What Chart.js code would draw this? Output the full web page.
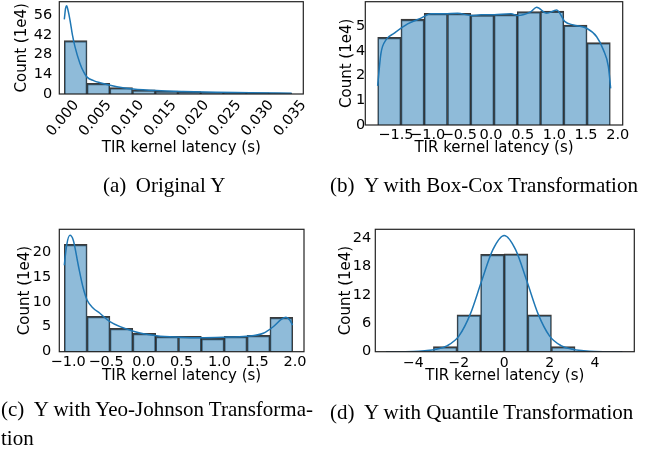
<!DOCTYPE html>
<html>
<head>
<meta charset="utf-8">
<script src="https://cdn.jsdelivr.net/npm/chart.js@4.4.1/dist/chart.umd.min.js"></script>
<style>
  body { margin: 0; width: 662px; height: 451px; background: #fff; overflow: hidden; position: relative; }
  .box { position: absolute; width: 331px; height: 200px; }
  .cap { position: absolute; font-family: 'Liberation Serif', serif; font-size: 21px; line-height: 24px; color: #000; white-space: nowrap; }
</style>
</head>
<body>
<div class="box" style="left:0;top:0"><canvas id="chartA" width="331" height="200"></canvas></div>
<div class="box" style="left:331px;top:0"><canvas id="chartB" width="331" height="200"></canvas></div>
<div class="box" style="left:0;top:225px"><canvas id="chartC" width="331" height="200"></canvas></div>
<div class="box" style="left:331px;top:225px"><canvas id="chartD" width="331" height="200"></canvas></div>

<div class="cap" style="left:103px;top:172.6px">(a)&nbsp;&thinsp;Original Y</div>
<div class="cap" style="left:330px;top:172.6px">(b)&nbsp;&thinsp;Y with Box-Cox Transformation</div>
<div class="cap" style="left:1px;top:394.5px;line-height:29px">(c)&nbsp;&thinsp;Y with Yeo-Johnson Transforma-<br>tion</div>
<div class="cap" style="left:330px;top:400.2px">(d)&nbsp;&thinsp;Y with Quantile Transformation</div>

<script>
// (a) Original Y
const binsA = [0.00175, 0.00525, 0.00875, 0.01225, 0.01575, 0.01925, 0.02275, 0.02625, 0.02975, 0.03325];
const countsA = [38.0, 7.6, 4.5, 2.9, 2.1, 1.7, 1.2, 1.0, 0.8, 0.7];
const kdeXA = [0, 0.0002, 0.00036, 0.0006, 0.00087, 0.00125, 0.00164, 0.0024, 0.003, 0.0035, 0.0045, 0.0055, 0.0081, 0.0106, 0.0142, 0.0183, 0.0234, 0.0286, 0.035];
const kdeYA = [53, 61, 62.7, 59, 52.7, 42, 33.7, 21.9, 15.5, 12, 9.5, 8, 5.2, 3.6, 2.4, 1.7, 1.2, 0.95, 0.5];
const xTicksA = [0, 0.005, 0.01, 0.015, 0.02, 0.025, 0.03, 0.035];
const yTicksA = [0, 14, 28, 42, 56];

// (b) Box-Cox
const binsB = [-1.605, -1.238, -0.871, -0.503, -0.136, 0.231, 0.599, 0.966, 1.333, 1.700];
const countsB = [4.26, 5.14, 5.43, 5.43, 5.35, 5.38, 5.51, 5.53, 4.86, 4.0];
const kdeXB = [-1.789, -1.737, -1.658, -1.526, -1.316, -1.105, -0.947, -0.737, -0.526, -0.316, -0.158, 0.053, 0.316, 0.421, 0.632, 0.72, 0.879, 1.037, 1.168, 1.3, 1.51, 1.668, 1.774, 1.853, 1.889];
const kdeYB = [1.9, 3.48, 4.13, 4.46, 4.91, 5.19, 5.40, 5.40, 5.43, 5.32, 5.35, 5.36, 5.40, 5.32, 5.51, 5.72, 5.43, 5.59, 5.02, 4.86, 4.70, 4.29, 3.65, 2.84, 1.78];
const xTicksB = [-1.5, -1.0, -0.5, 0.0, 0.5, 1.0, 1.5, 2.0];
const yTicksB = [0, 1.2, 2.4, 3.6, 4.8];

// (c) Yeo-Johnson
const binsC = [-0.901, -0.599, -0.297, 0.006, 0.308, 0.610, 0.912, 1.214, 1.517, 1.819];
const countsC = [21.5, 7.1, 4.7, 3.7, 3.1, 3.07, 2.7, 3.1, 3.3, 6.9];
const kdeXC = [-1.052, -1.021, -0.977, -0.933, -0.867, -0.801, -0.749, -0.669, -0.581, -0.449, -0.140, 0.169, 0.477, 0.742, 1.050, 1.359, 1.580, 1.712, 1.822, 1.880, 1.933, 1.968];
const kdeYC = [17.3, 21.3, 23.3, 22.3, 17.3, 12.7, 10.3, 8.7, 7.7, 6.0, 4.1, 3.2, 2.9, 2.8, 2.9, 3.1, 3.7, 5.0, 6.5, 6.9, 6.3, 5.3];
const xTicksC = [-1.0, -0.5, 0.0, 0.5, 1.0, 1.5, 2.0];
const yTicksC = [0, 5, 10, 15, 20];

// (d) Quantile
const binsD = [-4.68, -3.64, -2.6, -1.56, -0.52, 0.52, 1.56, 2.6, 3.64, 4.68];
const countsD = [0.02, 0.05, 1.06, 7.8, 20.6, 20.7, 7.8, 1.06, 0.05, 0.02];
const kdeXD = [-5.2, -4, -3.5, -3, -2.5, -2, -1.5, -1, -0.5, 0, 0.5, 1, 1.5, 2, 2.5, 3, 3.5, 4, 5.2];
const kdeYD = [0, 0.05, 0.2, 0.5, 1.3, 3.3, 7.9, 14.9, 21.6, 24.6, 21.6, 14.9, 7.9, 3.3, 1.3, 0.5, 0.2, 0.05, 0];
const xTicksD = [-4, -2, 0, 2, 4];
const yTicksD = [0, 6, 12, 18, 24];

Chart.defaults.font.family = "'DejaVu Sans', sans-serif";
Chart.defaults.color = '#000';

function signed(v, d) {
    const s = Math.abs(v).toFixed(d);
    return v < 0 ? '\u2212' + s : s;
}

// box round the plot area, like the matplotlib spines
const framePlugin = {
    id: 'frame',
    afterDatasetsDraw(chart) {
        const { ctx, chartArea: a } = chart;
        ctx.save();
        ctx.strokeStyle = '#222';
        ctx.lineWidth = 1.2;
        ctx.strokeRect(a.left, a.top, a.right - a.left, a.bottom - a.top);
        ctx.restore();
    }
};

function makeHist(id, o) {
    const W = 331, H = 200;
    const padLeft = o.yTitleX - 9;
    const xBottom = o.xTitleY + 9;
    const [l, t, r, b] = o.frame;
    return new Chart(document.getElementById(id), {
        type: 'bar',
        data: {
            datasets: [{
                type: 'line',
                data: o.kdeX.map((x, i) => ({ x: x, y: o.kdeY[i] })),
                borderColor: '#1f77b4',
                borderWidth: 1.5,
                pointRadius: 0,
                cubicInterpolationMode: 'monotone',
                fill: false,
                order: 0
            }, {
                type: 'bar',
                data: o.bins.map((x, i) => ({ x: x, y: o.counts[i] })),
                backgroundColor: 'rgba(31,119,180,0.5)',
                borderColor: 'rgba(25,25,25,0.85)',
                borderWidth: { top: 1.6, left: 1, right: 1, bottom: 0 },
                borderSkipped: 'bottom',
                barPercentage: 1,
                categoryPercentage: 1,
                order: 1
            }]
        },
        options: {
            responsive: false,
            animation: false,
            layout: { padding: { left: padLeft, top: t, right: W - r, bottom: H - xBottom } },
            plugins: { legend: { display: false }, tooltip: { enabled: false } },
            scales: {
                x: {
                    type: 'linear',
                    offset: false,
                    min: o.xMin,
                    max: o.xMax,
                    grid: { display: false, drawTicks: false, offset: false },
                    border: { display: false },
                    afterBuildTicks: s => { s.ticks = o.xTicks.map(v => ({ value: v })); },
                    afterFit: s => { s.height = xBottom - b; s.paddingLeft = 0; s.paddingRight = 0; },
                    ticks: {
                        autoSkip: false,
                        minRotation: o.rot,
                        maxRotation: o.rot,
                        labelOffset: o.labelOffset || 0,
                        padding: o.xPad,
                        font: { size: o.xFont || 14.5 },
                        callback: o.xFmt
                    },
                    title: { display: true, text: 'TIR kernel latency (s)', font: { size: 15 }, padding: 0 }
                },
                y: {
                    min: 0,
                    max: o.yMax,
                    grid: { display: false, drawTicks: false },
                    border: { display: false },
                    afterBuildTicks: s => { s.ticks = o.yTicks.map(v => ({ value: v })); },
                    afterFit: s => { s.width = l - padLeft; s.paddingTop = 0; s.paddingBottom = 0; },
                    ticks: {
                        padding: o.yPad,
                        font: { size: 14.5 },
                        callback: v => String(Math.round(v))
                    },
                    title: { display: true, text: 'Count (1e4)', font: { size: 15 }, padding: 0 }
                }
            }
        },
        plugins: [framePlugin]
    });
}

makeHist('chartA', {
    bins: binsA, counts: countsA, kdeX: kdeXA, kdeY: kdeYA, xTicks: xTicksA, yTicks: yTicksA,
    frame: [59.3, 1.7, 303.3, 94], yTitleX: 22.5, xTitleY: 148,
    xMin: -0.00077, xMax: 0.0368, yMax: 65.6,
    rot: 50, labelOffset: 12, xPad: 3, yPad: 7,
    xFmt: v => v.toFixed(3)
});

makeHist('chartB', {
    bins: binsB, counts: countsB, kdeX: kdeXB, kdeY: kdeYB, xTicks: xTicksB, yTicks: yTicksB,
    frame: [34.3, 1.7, 291.7, 125], yTitleX: 16, xTitleY: 148.3,
    xMin: -1.984, xMax: 2.079, yMax: 5.99,
    rot: 0, xPad: 2, yPad: 0,
    xFmt: v => signed(v, 1)
});

makeHist('chartC', {
    bins: binsC, counts: countsC, kdeX: kdeXC, kdeY: kdeYC, xTicks: xTicksC, yTicks: yTicksC,
    frame: [59.3, 4.3, 304, 126.7], yTitleX: 24.7, xTitleY: 150.7,
    xMin: -1.118, xMax: 2.119, yMax: 24.5,
    rot: 0, xPad: 2, yPad: 8,
    xFmt: v => signed(v, 1)
});

makeHist('chartD', {
    bins: binsD, counts: countsD, kdeX: kdeXD, kdeY: kdeYD, xTicks: xTicksD, yTicks: yTicksD,
    frame: [44.3, 4.3, 303.3, 126.7], yTitleX: 15, xTitleY: 150.7,
    xMin: -5.68, xMax: 5.73, yMax: 25.9,
    rot: 0, xPad: 3, yPad: 4, xFont: 14,
    xFmt: v => signed(v, 0)
});
</script>
</body>
</html>
